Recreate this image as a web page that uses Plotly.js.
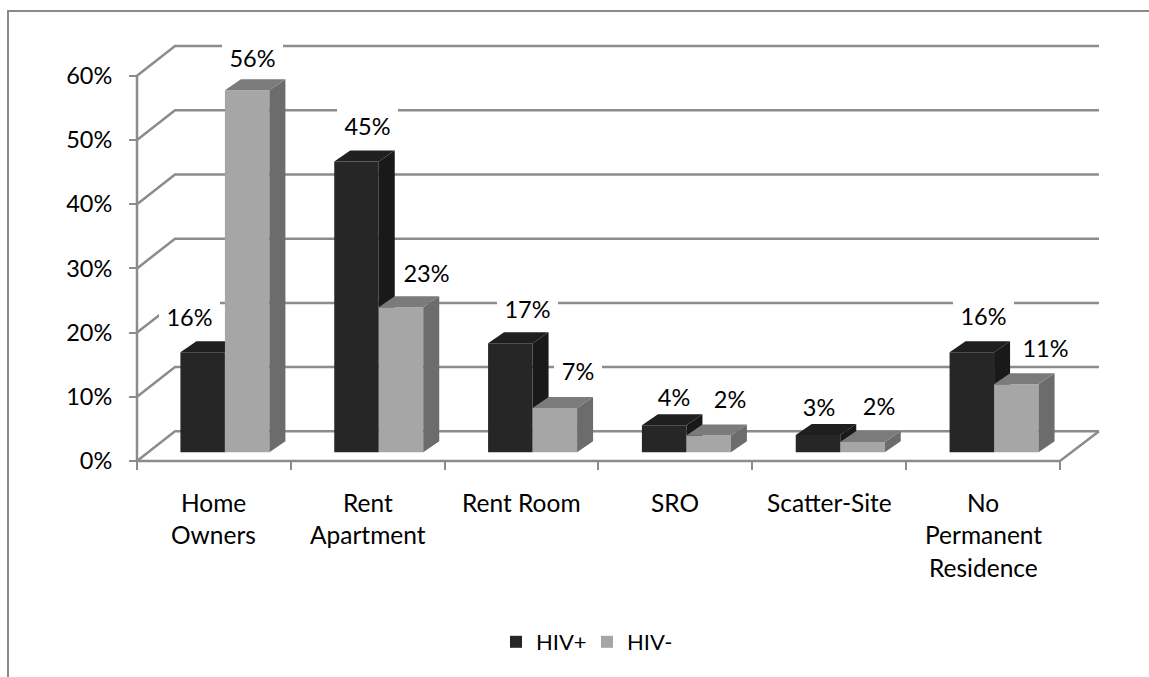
<!DOCTYPE html>
<html>
<head>
<meta charset="utf-8">
<script src="https://cdn.plot.ly/plotly-3.0.1.min.js"></script>
<style>html,body{margin:0;padding:0;background:#fff;}</style>
</head>
<body>
<div id="chart" style="width:1149px;height:677px;"></div>
<script>
// ---- data ----
const categoryLines = [["Home","Owners"],["Rent","Apartment"],["Rent Room"],["SRO"],["Scatter-Site"],["No","Permanent","Residence"]];
const hivPos = [15.6, 45.3, 17.0, 4.2, 2.7, 15.6];
const hivNeg = [56.4, 22.6, 6.9, 2.6, 1.6, 10.6];
const hivPosLabels = ["16%","45%","17%","4%","3%","16%"];
const hivNegLabels = ["56%","23%","7%","2%","2%","11%"];
const yTicks = [0,10,20,30,40,50,60];
const yTickText = ["0%","10%","20%","30%","40%","50%","60%"];

// ---- placement of the hand-set data labels (pixels from top centre of bar) ----
const posLabelDx = [-13, 11, 17, 10, 1, 12];
const posLabelUp = [35, 35, 34, 28, 28, 36];
const negLabelDx = [5, 26, 23, 21, 17, 29];
const negLabelUp = [32, 34, 37, 37, 36, 36];

// ---- pixel scale of the pseudo 3-D chart ----
const pxX0 = 137, pxY0 = 461, pxPerCat = 153.83, pxPerPct = 6.42, W = 1149, H = 677;
const barW = 44.5/pxPerCat, catShift = 11/pxPerCat, lift = 8.7/pxPerPct;
const depthX = 16/pxPerCat, depthY = 11/pxPerPct;
const wallX = 38/pxPerCat, wallY = 29.7/pxPerPct, xEnd = 6 + 39/pxPerCat;
const xRange = [-0.05, 6.3], yRange = [-2, 66];
const GRID = "#8c8c8c";
const FONT = "Lato, Carlito, sans-serif", FS_PCT = 23.5, FS_CAT = 24.5, FS_LEG = 22;

const posFront = "#262626", posSide = "#191919", posTop = "#1f1f1f";
const negFront = "#a6a6a6", negSide = "#6c6c6c", negTop = "#7b7b7b";

const cx = i => i + 0.5 + catShift;
const posX = hivPos.map((_, i) => cx(i) - barW/2);
const negX = hivNeg.map((_, i) => cx(i) + barW/2);

function quad(a, b, c, d){ return `M${a[0]},${a[1]}L${b[0]},${b[1]}L${c[0]},${c[1]}L${d[0]},${d[1]}Z`; }
function fillShape(path, color){ return {type:"path", path, xref:"x", yref:"y", layer:"below", fillcolor:color, line:{width:0}}; }

const shapes = [];
// frame
shapes.push({type:"path", xref:"paper", yref:"paper", layer:"below",
  path:`M${8/W},0L${8/W},${1-11/H}L1,${1-11/H}`, line:{color:"#8a8a8a", width:2}});
// back wall gridlines and floor
yTicks.forEach(v => {
  shapes.push({type:"path", xref:"x", yref:"y", layer:"below",
    path:`M0,${v}L${wallX},${v+wallY}L${xEnd},${v+wallY}`, line:{color:GRID, width:2.5}});
});
// floor edges and vertical axis
shapes.push({type:"path", xref:"x", yref:"y", layer:"below",
  path:`M0,60L0,0L6,0L${xEnd},${wallY}`, line:{color:GRID, width:2.5}});
// depth faces of the dark bars, below the bar traces so that the front of the light bar hides them
hivPos.forEach((v, i) => {
  const l = posX[i]-barW/2, r = posX[i]+barW/2, t = lift+v, b = lift;
  shapes.push(fillShape(quad([r,b],[r+depthX,b+depthY],[r+depthX,t+depthY],[r,t]), posSide));
  shapes.push(fillShape(quad([l,t],[r,t],[r+depthX,t+depthY],[l+depthX,t+depthY]), posTop));
});

// depth faces of the light bars as polygons
function depthTrace(vals, xs, kind, color){
  const x = [], y = [];
  vals.forEach((v, i) => {
    const l = xs[i]-barW/2, r = xs[i]+barW/2, t = lift+v, b = lift;
    if(kind === "side"){
      x.push(r, r+depthX, r+depthX, r, null);
      y.push(b, b+depthY, t+depthY, t, null);
    } else {
      x.push(l, r, r+depthX, l+depthX, null);
      y.push(t, t, t+depthY, t+depthY, null);
    }
  });
  return {type:"scatter", mode:"none", x, y, fill:"toself", fillcolor:color, showlegend:false, hoverinfo:"skip", xaxis:"x", yaxis:"y"};
}

const traces = [
  {type:"bar", name:"HIV+", x:posX, y:hivPos, base:hivPos.map(()=>lift), width:barW, marker:{color:posFront, line:{width:0}}, hoverinfo:"skip"},
  {type:"bar", name:"HIV-", x:negX, y:hivNeg, base:hivNeg.map(()=>lift), width:barW, marker:{color:negFront, line:{width:0}}, hoverinfo:"skip"},
  depthTrace(hivNeg, negX, "side", negSide),
  depthTrace(hivNeg, negX, "top", negTop)
];

const annotations = [];
function addLabels(vals, xs, labels, dx, up){
  vals.forEach((v, i) => {
    annotations.push({xref:"x", yref:"y", x:xs[i], y:lift+v, text:labels[i], showarrow:false,
      xanchor:"center", yanchor:"middle", xshift:dx[i], yshift:up[i],
      font:{family:FONT, size:FS_PCT, color:"#000"}, bgcolor:"#ffffff",
      width:labels[i].length === 3 ? 61 : 48, height:34, borderpad:0, borderwidth:0});
  });
}
addLabels(hivPos, posX, hivPosLabels, posLabelDx, posLabelUp);
addLabels(hivNeg, negX, hivNegLabels, negLabelDx, negLabelUp);
// category labels with the wide line spacing of the reference
categoryLines.forEach((lines, i) => {
  lines.forEach((t, j) => {
    annotations.push({xref:"x", yref:"y", x:i+0.5, y:0, text:t, showarrow:false, xanchor:"center", yanchor:"middle",
      yshift:-(41 + 32.5*j), font:{family:FONT, size:FS_CAT, color:"#000"}});
  });
});

const layout = {
  width:W, height:H, autosize:false, margin:{l:0,r:0,t:0,b:0,pad:0},
  paper_bgcolor:"#fff", plot_bgcolor:"rgba(0,0,0,0)", barmode:"overlay", hovermode:false,
  xaxis:{domain:[(pxX0+xRange[0]*pxPerCat)/W,(pxX0+xRange[1]*pxPerCat)/W], range:xRange, showgrid:false, zeroline:false,
    showline:false, tickmode:"array", tickvals:[0,1,2,3,4,5,6], showticklabels:false, ticks:"outside", ticklen:8, tickcolor:GRID, tickwidth:2,
    anchor:"free", position:1-pxY0/H, fixedrange:true},
  yaxis:{domain:[1-(pxY0-yRange[0]*pxPerPct)/H,1-(pxY0-yRange[1]*pxPerPct)/H], range:yRange, showgrid:false, zeroline:false,
    showline:false, tickmode:"array", tickvals:yTicks, ticktext:yTickText, ticks:"outside", ticklen:8, tickcolor:GRID, tickwidth:2,
    ticklabelstandoff:12, tickfont:{family:FONT, size:FS_PCT, color:"#000"},
    anchor:"free", position:pxX0/W, fixedrange:true},
  shapes, annotations,
  showlegend:true,
  legend:{orientation:"h", x:496/W, xanchor:"left", y:1-642/H, yanchor:"middle", font:{family:FONT, size:FS_LEG, color:"#000"},
    itemwidth:30, entrywidth:46, entrywidthmode:"pixels", bgcolor:"rgba(0,0,0,0)", traceorder:"normal", itemclick:false, itemdoubleclick:false}
};
Plotly.newPlot("chart", traces, layout, {displayModeBar:false, responsive:false, staticPlot:true});
</script>
</body>
</html>
